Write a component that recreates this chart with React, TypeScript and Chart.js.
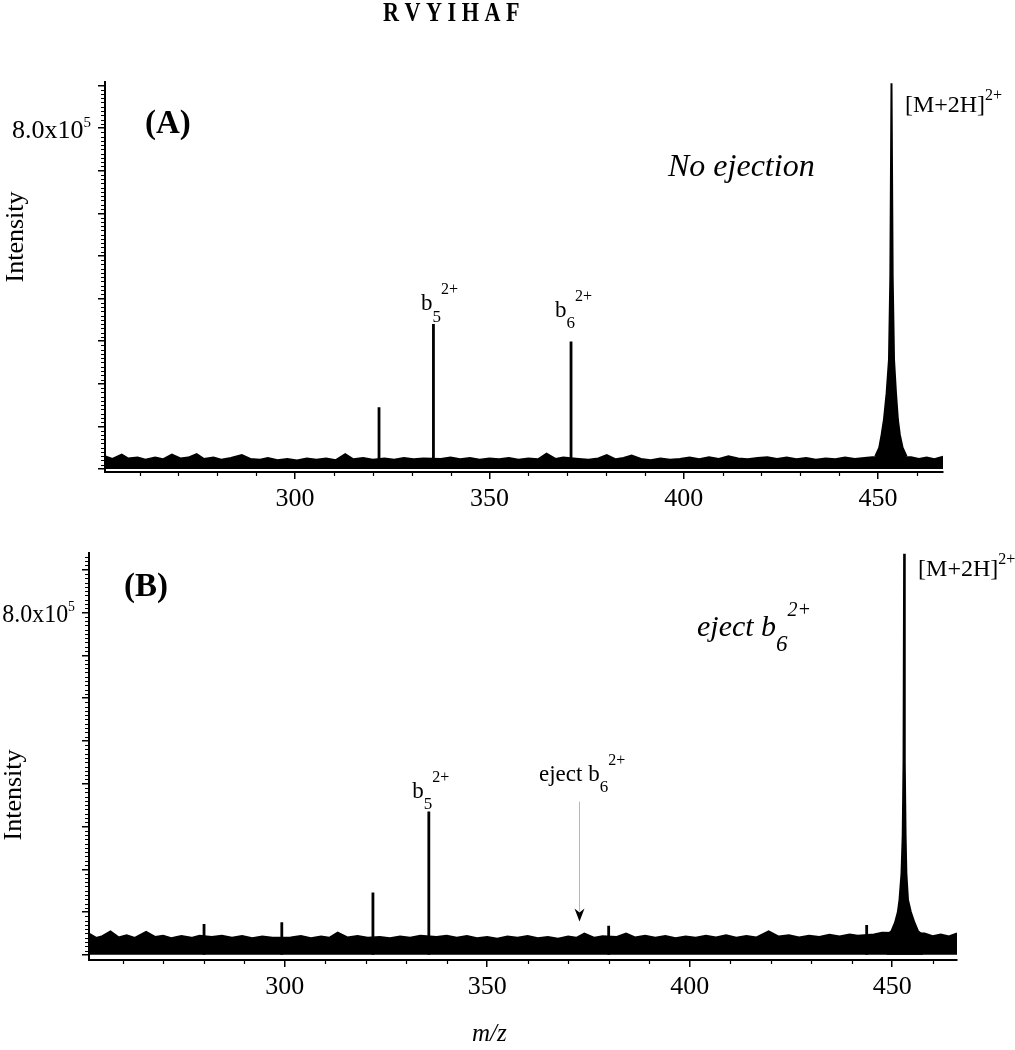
import React, { useEffect, useRef } from 'react';
import { Chart, registerables } from 'chart.js';

Chart.register(...registerables);

const UNIT = 1e5;
const xTickValues = [300, 350, 400, 450];
const yTickValues = [0, 1, 2, 3, 4, 5, 6, 7, 8, 9];
const yLabelValue = 8;

// ---------- Panel A (no ejection) : [m/z, intensity x1e5] ----------
const noiseA: [number, number][] = [
  [251.2, 0.30], [253, 0.24], [255.4, 0.34], [257, 0.25], [259.5, 0.27], [261.5, 0.22], [264, 0.27], [266, 0.23],
  [268.3, 0.34], [270.5, 0.25], [272.5, 0.27], [274.7, 0.35], [276.5, 0.24], [279, 0.27], [281, 0.22], [283.5, 0.26],
  [286.3, 0.33], [288.5, 0.24], [291, 0.22], [293, 0.26], [295.5, 0.21], [298, 0.24], [300.5, 0.20], [303, 0.25],
  [305.5, 0.22], [308, 0.25], [310.5, 0.21], [312.9, 0.35], [315, 0.23], [317.5, 0.26], [320, 0.22], [323, 0.25],
  [325.5, 0.22], [328, 0.26], [330.5, 0.23], [333, 0.25], [337.5, 0.24], [340, 0.27], [342.5, 0.23], [345, 0.26],
  [347.5, 0.22], [350, 0.25], [352.5, 0.23], [355, 0.26], [357.5, 0.22], [360, 0.25], [362.5, 0.23], [364.7, 0.36],
  [367, 0.24], [369, 0.27], [373, 0.24], [375.5, 0.22], [378, 0.25], [380.2, 0.33], [382.5, 0.23], [384.5, 0.26],
  [386.6, 0.32], [389, 0.24], [391.5, 0.21], [394, 0.25], [396.5, 0.22], [399, 0.24], [401.5, 0.27], [404, 0.23],
  [406.5, 0.28], [409, 0.24], [411.5, 0.30], [414, 0.25], [416.5, 0.23], [419, 0.26], [421.5, 0.28], [424, 0.24],
  [426.5, 0.27], [429, 0.23], [431.5, 0.26], [434, 0.22], [436.5, 0.25], [439, 0.23], [441.5, 0.27], [444, 0.24],
  [446.5, 0.26], [448.5, 0.28], [458.5, 0.28], [460.5, 0.24], [462.5, 0.27], [464.5, 0.23], [466.7, 0.29],
];
const peaksA: [number, number][] = [
  [321.6, 1.45], [335.6, 3.40], [371.0, 2.99],
];
const parentA: [number, number][] = [
  [449.3, 0.30], [450.3, 0.50], [450.9, 0.80], [451.5, 1.15], [452.2, 1.78], [452.8, 2.56], [453.15, 4.5],
  [453.45, 9.05], [453.75, 4.5], [454.1, 2.56], [454.6, 1.78], [455.1, 1.15], [455.6, 0.80], [456.3, 0.50], [457.3, 0.30],
];

// ---------- Panel B (eject b6 2+) ----------
const noiseB: [number, number][] = [
  [251.7, 0.50], [253.5, 0.40], [255, 0.44], [257, 0.55], [259, 0.41], [261, 0.46], [263, 0.40], [265.8, 0.54],
  [268, 0.42], [270, 0.45], [272, 0.39], [274.5, 0.44], [277, 0.40], [279, 0.45], [282, 0.42], [284.5, 0.45],
  [287, 0.40], [289.5, 0.44], [292, 0.39], [294.5, 0.43], [297, 0.40], [301.5, 0.41], [304, 0.44], [306.5, 0.39],
  [309, 0.43], [311, 0.40], [313.1, 0.52], [315.5, 0.41], [318, 0.44], [320.5, 0.40], [323.5, 0.42], [326, 0.39],
  [328.5, 0.43], [331, 0.40], [333.5, 0.45], [337.5, 0.42], [340, 0.45], [342.5, 0.40], [345, 0.44], [347.5, 0.39],
  [350, 0.42], [352.5, 0.38], [355, 0.43], [357.5, 0.40], [360, 0.44], [362.5, 0.39], [365, 0.42], [367.5, 0.38],
  [370, 0.43], [372, 0.40], [374, 0.50], [376.5, 0.40], [378.5, 0.44], [382, 0.42], [384.3, 0.50], [386.5, 0.41],
  [389, 0.45], [391.5, 0.40], [394, 0.44], [396.5, 0.39], [399, 0.43], [401.5, 0.40], [404, 0.45], [406.5, 0.41],
  [409, 0.46], [411.5, 0.40], [414, 0.44], [416.5, 0.41], [419.5, 0.55], [422, 0.43], [424.5, 0.46], [427, 0.41],
  [429.5, 0.45], [432, 0.42], [434.5, 0.47], [437, 0.43], [439.5, 0.48], [441.5, 0.45], [445.5, 0.48], [447.5, 0.52],
  [458, 0.50], [460, 0.44], [462, 0.48], [464, 0.43], [466.0, 0.50],
];
const peaksB: [number, number][] = [
  [280.1, 0.72], [299.3, 0.76], [321.8, 1.46], [335.6, 3.35], [380.0, 0.68], [443.7, 0.70],
];
const parentB: [number, number][] = [
  [448.6, 0.45], [449.8, 0.55], [450.7, 0.75], [451.4, 1.0], [451.8, 1.28], [452.3, 1.9], [452.6, 2.8], [452.8, 4.5],
  [452.95, 9.37], [453.1, 4.5], [453.3, 2.8], [453.5, 1.9], [453.9, 1.28], [454.6, 1.0], [455.5, 0.75], [456.4, 0.55],
  [457.6, 0.45],
];
const ejectArrowB = { x: 372.7, from: 3.58, to: 0.78 };

const FONT = '"Liberation Serif", "Times New Roman", serif';
const font = (size: number, style = 'normal', weight = 'normal') => `${style} ${weight} ${size}px ${FONT}`;

type Seg = { t: string; size: number; style?: string; weight?: string; dy?: number };

function drawRich(ctx: CanvasRenderingContext2D, segs: Seg[], x: number, y: number, align: 'left' | 'right' = 'left', hScale = 1) {
  ctx.save();
  ctx.fillStyle = '#000';
  ctx.textBaseline = 'alphabetic';
  ctx.textAlign = 'left';
  let total = 0;
  for (const s of segs) {
    ctx.font = font(s.size, s.style, s.weight);
    total += ctx.measureText(s.t).width;
  }
  total *= hScale;
  const startX = align === 'right' ? x - total : x;
  ctx.translate(startX, y);
  ctx.scale(hScale, 1);
  let cx = 0;
  for (const s of segs) {
    ctx.font = font(s.size, s.style, s.weight);
    ctx.fillText(s.t, cx, s.dy || 0);
    cx += ctx.measureText(s.t).width;
  }
  ctx.restore();
}

function ion(base: string, sub: string, sup: string, size: number, style = 'normal'): Seg[] {
  const segs: Seg[] = [{ t: base, size, style }];
  if (sub) segs.push({ t: sub, size: Math.round(size * 0.75), style, dy: size * 0.5 });
  if (sup) segs.push({ t: sup, size: Math.round(size * 0.68), style, dy: -size * 0.68 });
  return segs;
}

function drawAxesDecor(chart: any) {
  const ctx: CanvasRenderingContext2D = chart.ctx;
  const xs = chart.scales.x;
  const ys = chart.scales.y;
  const { left, bottom } = chart.chartArea;
  ctx.save();
  ctx.strokeStyle = '#000';
  ctx.lineWidth = 1.2;
  ctx.beginPath();
  for (let v = 260; v <= 460; v += 10) {
    if (xTickValues.includes(v)) continue;
    const px = Math.round(xs.getPixelForValue(v)) + 0.5;
    ctx.moveTo(px, bottom);
    ctx.lineTo(px, bottom + 4);
  }
  for (let v = 0.1; v < ys.max / UNIT; v += 0.1) {
    const r = Math.round(v * 10);
    if (r % 10 === 0) continue;
    const py = Math.round(ys.getPixelForValue(r / 10 * UNIT)) + 0.5;
    ctx.moveTo(left - 4, py);
    ctx.lineTo(left, py);
  }
  ctx.stroke();
  ctx.restore();
}

function drawYLabel(chart: any, rightX: number, hScale: number) {
  const ys = chart.scales.y;
  const py = ys.getPixelForValue(yLabelValue * UNIT);
  drawRich(chart.ctx, [
    { t: '8.0x10', size: 26 },
    { t: '5', size: 15, dy: -11 },
  ], rightX, py + 10, 'right', hScale);
}

function drawRotated(ctx: CanvasRenderingContext2D, text: string, x: number, y: number, size: number) {
  ctx.save();
  ctx.translate(x, y);
  ctx.rotate(-Math.PI / 2);
  ctx.font = font(size);
  ctx.fillStyle = '#000';
  ctx.textAlign = 'center';
  ctx.textBaseline = 'middle';
  ctx.fillText(text, 0, 0);
  ctx.restore();
}

function decorA(chart: any) {
  const ctx: CanvasRenderingContext2D = chart.ctx;
  const xs = chart.scales.x;
  const ys = chart.scales.y;
  const P = (mz: number, v: number) => [xs.getPixelForValue(mz), ys.getPixelForValue(v * UNIT)];
  drawAxesDecor(chart);
  drawRich(ctx, [{ t: 'R V Y I H A F', size: 27, weight: 'bold' }], 383, 21, 'left', 0.82);
  drawRich(ctx, [{ t: '(A)', size: 33, weight: 'bold' }], 145, 133);
  drawRich(ctx, [{ t: 'No ejection', size: 32, style: 'italic' }], 668, 176);
  drawYLabel(chart, 91, 1);
  drawRotated(ctx, 'Intensity', 16, 237, 26);
  let [x, y] = P(332.4, 3.73);
  drawRich(ctx, ion('b', '5', '2+', 23), x, y);
  [x, y] = P(366.9, 3.57);
  drawRich(ctx, ion('b', '6', '2+', 23), x, y);
  [x, y] = P(456.9, 8.38);
  drawRich(ctx, [{ t: '[M+2H]', size: 24 }, { t: '2+', size: 16, dy: -12 }], x, y);
}

function decorB(chart: any) {
  const ctx: CanvasRenderingContext2D = chart.ctx;
  const xs = chart.scales.x;
  const ys = chart.scales.y;
  const P = (mz: number, v: number) => [xs.getPixelForValue(mz), ys.getPixelForValue(v * UNIT)];
  drawAxesDecor(chart);
  drawRich(ctx, [{ t: '(B)', size: 33, weight: 'bold' }], 124, 76);
  drawRich(ctx, ion('eject b', '6', '2+', 30, 'italic'), 697, 116);
  drawYLabel(chart, 75, 0.92);
  drawRotated(ctx, 'Intensity', 14, 275, 26);
  drawRich(ctx, [{ t: 'm/z', size: 25, style: 'italic' }], 472, 521);
  let [x, y] = P(331.5, 3.67);
  drawRich(ctx, ion('b', '5', '2+', 23), x, y);
  [x, y] = P(456.4, 8.86);
  drawRich(ctx, [{ t: '[M+2H]', size: 24 }, { t: '2+', size: 16, dy: -12 }], x, y);
  [x, y] = P(362.8, 4.07);
  drawRich(ctx, ion('eject b', '6', '2+', 23), x, y);
  // arrow
  const ax = Math.round(xs.getPixelForValue(ejectArrowB.x)) + 0.5;
  const y1 = ys.getPixelForValue(ejectArrowB.from * UNIT);
  const y2 = ys.getPixelForValue(ejectArrowB.to * UNIT);
  ctx.save();
  ctx.strokeStyle = '#b8b8b8';
  ctx.lineWidth = 1;
  ctx.beginPath();
  ctx.moveTo(ax, y1);
  ctx.lineTo(ax, y2 - 10);
  ctx.stroke();
  ctx.fillStyle = '#000';
  ctx.beginPath();
  ctx.moveTo(ax, y2);
  ctx.lineTo(ax - 5, y2 - 13);
  ctx.lineTo(ax, y2 - 9);
  ctx.lineTo(ax + 5, y2 - 13);
  ctx.closePath();
  ctx.fill();
  ctx.restore();
}

function buildDatasets(noise: [number, number][], peaks: [number, number][], parent: [number, number][]) {
  const pts = (arr: [number, number][]) => arr.map(([x, y]) => ({ x, y: y * UNIT }));
  const sticks: { x: number; y: number | null }[] = [];
  for (const [x, h] of peaks) {
    sticks.push({ x, y: 0 }, { x, y: h * UNIT }, { x, y: 0 }, { x, y: null });
  }
  return [
    { data: pts(noise), borderColor: '#000', backgroundColor: '#000', borderWidth: 1.8, fill: 'origin', pointRadius: 0, tension: 0 },
    { data: pts(parent), borderColor: '#000', backgroundColor: '#000', borderWidth: 2, fill: 'origin', pointRadius: 0, tension: 0 },
    { data: sticks, borderColor: '#000', borderWidth: 2.8, fill: false, pointRadius: 0, spanGaps: false, borderJoinStyle: 'bevel' },
  ];
}

type PanelCfg = {
  noise: [number, number][];
  peaks: [number, number][];
  parent: [number, number][];
  xMin: number; xMax: number; yMin: number; yMax: number;
  height: number; left: number; right: number; top: number; bottom: number;
  decor: (c: any) => void;
};

const W = 1015;

const cfgA: PanelCfg = {
  noise: noiseA, peaks: peaksA, parent: parentA,
  xMin: 251.1, xMax: 466.7, yMin: -0.07, yMax: 9.08,
  height: 520, left: 105, right: 943, top: 82, bottom: 472,
  decor: decorA,
};
const cfgB: PanelCfg = {
  noise: noiseB, peaks: peaksB, parent: parentB,
  xMin: 251.7, xMax: 466.0, yMin: -0.12, yMax: 9.39,
  height: 530, left: 89, right: 957, top: 33, bottom: 440,
  decor: decorB,
};

function Panel({ cfg, top }: { cfg: PanelCfg; top: number }) {
  const ref = useRef<HTMLCanvasElement | null>(null);
  useEffect(() => {
    if (!ref.current) return;
    const chart = new Chart(ref.current, {
      type: 'line',
      data: { datasets: buildDatasets(cfg.noise, cfg.peaks, cfg.parent) as any },
      options: {
        animation: false,
        responsive: false,
        devicePixelRatio: 1,
        events: [],
        layout: { padding: { left: 0, top: cfg.top, right: W - cfg.right, bottom: 0 } },
        plugins: { legend: { display: false }, tooltip: { enabled: false }, title: { display: false } },
        elements: { point: { radius: 0 } },
        scales: {
          x: {
            type: 'linear',
            min: cfg.xMin,
            max: cfg.xMax,
            afterBuildTicks: (s: any) => { s.ticks = xTickValues.map((v) => ({ value: v })); },
            afterFit: (s: any) => { s.height = cfg.height - cfg.bottom; },
            grid: { drawOnChartArea: false, drawTicks: true, tickLength: 7, color: '#000', lineWidth: 1.5 },
            border: { display: true, color: '#000', width: 2 },
            ticks: { color: '#000', font: { family: FONT, size: 26 }, padding: 5, maxRotation: 0, callback: (v: any) => String(v) },
          },
          y: {
            type: 'linear',
            min: cfg.yMin * UNIT,
            max: cfg.yMax * UNIT,
            afterBuildTicks: (s: any) => { s.ticks = yTickValues.map((v) => ({ value: v * UNIT })); },
            afterFit: (s: any) => { s.width = cfg.left; },
            grid: { drawOnChartArea: false, drawTicks: true, tickLength: 7, color: '#000', lineWidth: 1.5 },
            border: { display: true, color: '#000', width: 2 },
            ticks: { display: true, callback: () => '', font: { family: FONT, size: 10 } },
          },
        },
      },
      plugins: [{ id: 'decor', afterDraw: (c: any) => cfg.decor(c) }],
    } as any);
    return () => chart.destroy();
  }, [cfg]);
  return (
    <canvas
      ref={ref}
      width={W}
      height={cfg.height}
      style={{ position: 'absolute', left: 0, top, width: W, height: cfg.height, display: 'block' }}
    />
  );
}

export default function App() {
  return (
    <div style={{ position: 'absolute', left: 0, top: 0, width: W, height: 1050, background: '#fff' }}>
      <Panel cfg={cfgA} top={0} />
      <Panel cfg={cfgB} top={520} />
    </div>
  );
}
